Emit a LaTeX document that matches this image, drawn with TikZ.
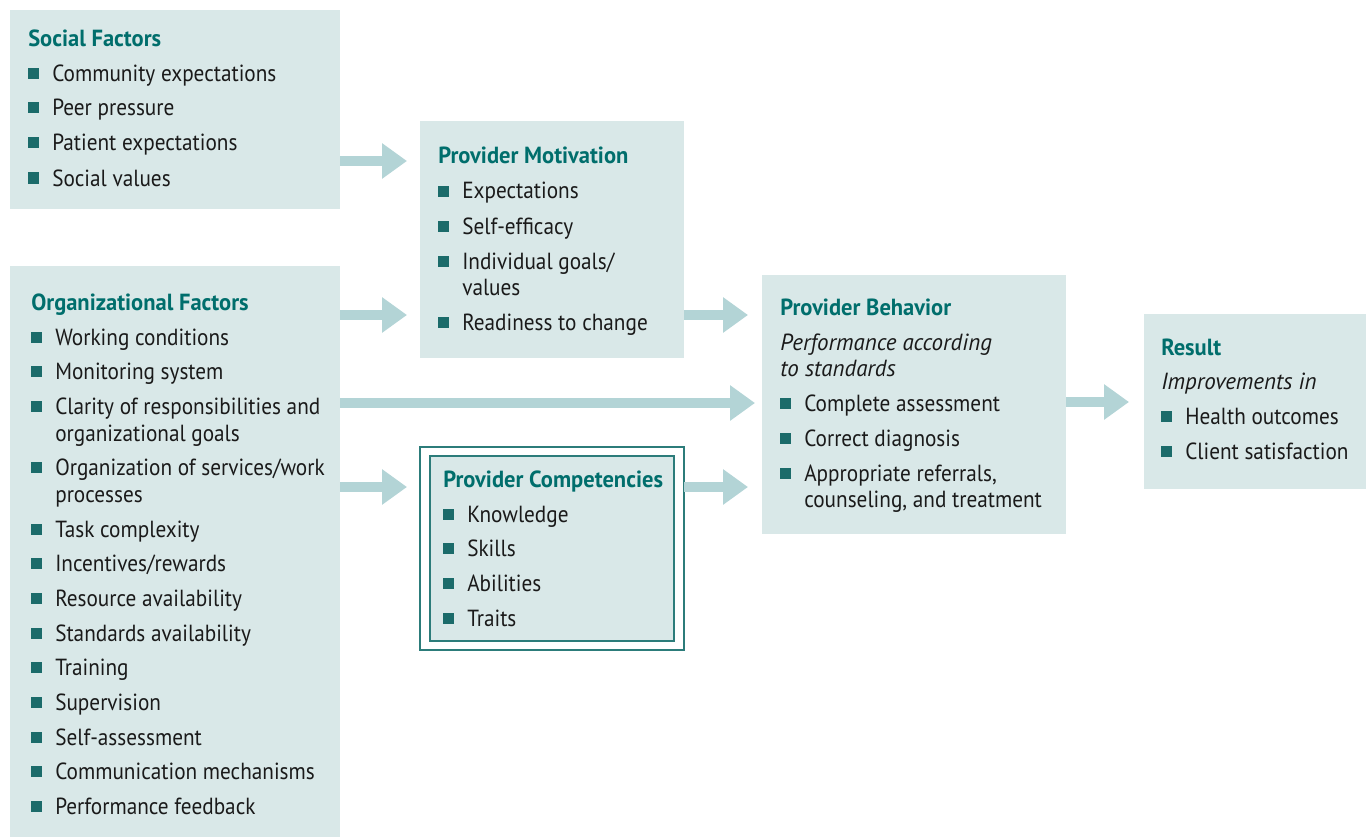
\documentclass[tikz,border=0pt]{standalone}
\usepackage{fontspec}
\setmainfont{PT Sans}[FakeStretch=0.91,BoldFeatures={FakeStretch=0.965},ItalicFeatures={FakeStretch=0.985}]
\usetikzlibrary{arrows.meta}
\definecolor{boxfill}{HTML}{D9E8E8}
\definecolor{arrowc}{HTML}{B3D4D6}
\definecolor{titlec}{HTML}{006E6C}
\definecolor{bulc}{HTML}{1B6B6A}
\definecolor{bordc}{HTML}{2C7C7A}
\definecolor{txtc}{HTML}{1A1A1A}
\tikzset{
  panel/.style={draw=none,fill=boxfill,inner sep=0,outer sep=0},
  ttl/.style={anchor=base west,inner sep=0,font=\fontsize{17.5}{20}\selectfont\bfseries,text=titlec},
  txt/.style={anchor=base west,inner sep=0,font=\fontsize{17.5}{20}\selectfont,text=txtc},
  itx/.style={txt,font=\fontsize{17.5}{20}\selectfont\itshape},
  bsq/.style={fill=bulc,inner sep=0,minimum size=8.25pt,draw=none},
  arr/.style={draw=arrowc,line width=7.5pt,-{Triangle[length=18.75pt 0 0,width=25.5pt 0 0]}}
}
\newcommand\bitem[4]{%
  \node[bsq] (#1b) at (#2+5.5,#3) {};
  \node[txt] (#1) at (#2+24,#3+8) {#4};}
\newcommand\citem[4]{\node[txt] (#1) at (#2+24,#3+8) {#4};}
\begin{document}
\begin{tikzpicture}[x=0.75pt,y=-0.75pt]
\useasboundingbox (0,0) rectangle (1366,838);
% panels
\node[panel,anchor=north west,minimum width=247.5pt,minimum height=149.25pt] (social) at (10,10) {};
\node[panel,anchor=north west,minimum width=247.5pt,minimum height=428.25pt] (org) at (10,266) {};
\node[panel,anchor=north west,minimum width=198pt,minimum height=177.75pt] (motiv) at (420,121) {};
\node[draw=bordc,line width=1.1pt,fill=white,anchor=north west,minimum width=198pt,minimum height=152.25pt,inner sep=0,outer sep=0] (compout) at (420,447) {};
\node[draw=bordc,line width=1.1pt,fill=boxfill,anchor=north west,minimum width=183pt,minimum height=138.75pt,inner sep=0,outer sep=0] (comp) at (430,456) {};
\node[panel,anchor=north west,minimum width=228pt,minimum height=194.25pt] (behav) at (762,275) {};
\node[panel,anchor=north west,minimum width=166.5pt,minimum height=131.25pt] (result) at (1144,314) {};
% social
\node[ttl] (socialt) at (28,47) {Social Factors};
\bitem{s1}{28}{74}{Community expectations}
\bitem{s2}{28}{108}{Peer pressure}
\bitem{s3}{28}{143}{Patient expectations}
\bitem{s4}{28}{178}{Social values}
% org
\node[ttl] (orgt) at (31,310) {Organizational Factors};
\bitem{o1}{31}{337}{Working conditions}
\bitem{o2}{31}{371}{Monitoring system}
\bitem{o3}{31}{406}{Clarity of responsibilities and}
\citem{o3c}{31}{433}{organizational goals}
\bitem{o4}{31}{467}{Organization of services/work}
\citem{o4c}{31}{494}{processes}
\bitem{o5}{31}{529}{Task complexity}
\bitem{o6}{31}{563}{Incentives/rewards}
\bitem{o7}{31}{598}{Resource availability}
\bitem{o8}{31}{633}{Standards availability}
\bitem{o9}{31}{667}{Training}
\bitem{o10}{31}{702}{Supervision}
\bitem{o11}{31}{737}{Self-assessment}
\bitem{o12}{31}{771}{Communication mechanisms}
\bitem{o13}{31}{806}{Performance feedback}
% motivation
\node[ttl] (motivt) at (438,164) {Provider Motivation};
\bitem{m1}{438}{191}{Expectations}
\bitem{m2}{438}{226}{Self-efficacy}
\bitem{m3}{438}{261}{Individual goals/}
\citem{m3c}{438}{287}{values}
\bitem{m4}{438}{322}{Readiness to change}
% competencies
\node[ttl] (compt) at (443,487) {Provider Competencies};
\bitem{c1}{443}{514}{Knowledge}
\bitem{c2}{443}{548}{Skills}
\bitem{c3}{443}{583}{Abilities}
\bitem{c4}{443}{618}{Traits}
% behaviour
\node[ttl] (behavt) at (780,315) {Provider Behavior};
\node[itx] (behavi1) at (780,350) {Performance according};
\node[itx] (behavi2) at (780,376) {to standards};
\bitem{b1}{780}{403}{Complete assessment}
\bitem{b2}{780}{438}{Correct diagnosis}
\bitem{b3}{780}{473}{Appropriate referrals,}
\citem{b3c}{780}{499}{counseling, and treatment}
% result
\node[ttl] (resultt) at (1161,355) {Result};
\node[itx] (resulti) at (1161,389) {Improvements in};
\bitem{r1}{1161}{416}{Health outcomes}
\bitem{r2}{1161}{451}{Client satisfaction}
% arrows
\draw[arr,shorten >=9.75pt] (social.east |- 0,161) -- (motiv.west |- 0,161);
\draw[arr,shorten >=9.75pt] (org.east |- 0,315) -- (motiv.west |- 0,315);
\draw[arr,shorten >=10.5pt] (motiv.east |- 0,315) -- (behav.west |- 0,315);
\draw[arr,shorten >=5.25pt] (org.east |- 0,403) -- (behav.west |- 0,403);
\draw[arr,shorten >=9.75pt] (org.east |- 0,487) -- (compout.west |- 0,487);
\draw[arr,shorten >=10.5pt] (compout.east |- 0,487) -- (behav.west |- 0,487);
\draw[arr,shorten >=11.25pt] (behav.east |- 0,402) -- (result.west |- 0,402);
\end{tikzpicture}
\end{document}
